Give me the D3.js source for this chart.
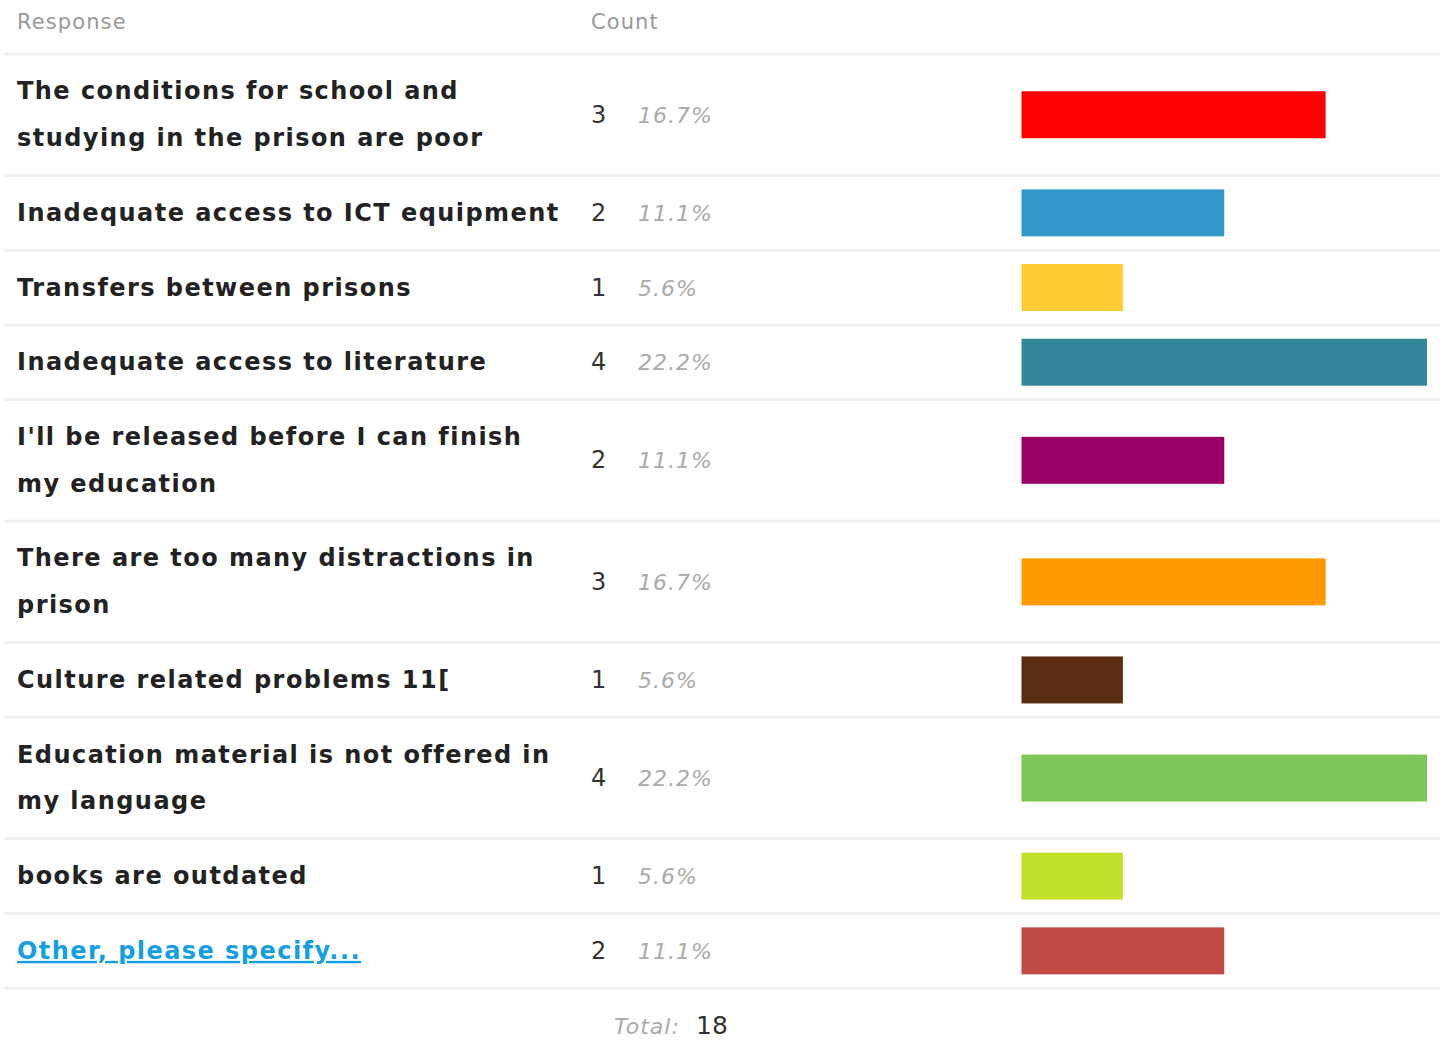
<!DOCTYPE html>
<html><head><meta charset="utf-8">
<script src="https://cdn.jsdelivr.net/npm/d3@7"></script>
<style>
html,body{margin:0;padding:0;background:#fff;}
svg text{font-family:"DejaVu Sans",sans-serif;}
</style></head>
<body><svg id="c" width="1443" height="1061"></svg>
<script>
const categories = [
  "The conditions for school and studying in the prison are poor",
  "Inadequate access to ICT equipment",
  "Transfers between prisons",
  "Inadequate access to literature",
  "I'll be released before I can finish my education",
  "There are too many distractions in prison",
  "Culture related problems 11[",
  "Education material is not offered in my language",
  "books are outdated",
  "Other, please specify..."
];
const counts = [3, 2, 1, 4, 2, 3, 1, 4, 1, 2];
const percents = ["16.7%", "11.1%", "5.6%", "22.2%", "11.1%", "16.7%", "5.6%", "22.2%", "5.6%", "11.1%"];
const colors = ["#ff0000", "#3598cc", "#ffcc33", "#33869c", "#990066", "#ff9900", "#5a2d13", "#80c55a", "#bfe12a", "#c04a44"];
const headers = ["Response", "Count"];
const total = 18;

const svg = d3.select("#c");
const lineH = 46.8, rowPad = 27.9, sepW = 3;
const labelX = 17, countX = 591, pctX = 638, barX0 = 1021.5, barMaxX = 1427;
const wrapW = 550;
const LS = "1.45px";

const x = d3.scaleLinear().domain([0, d3.max(counts)]).range([barX0, barMaxX]);

// header
svg.append("text").attr("x", labelX).attr("y", 29).attr("fill", "#999").style("font-size", "21px").style("letter-spacing", "1.1px").text(headers[0]);
svg.append("text").attr("x", countX).attr("y", 29).attr("fill", "#999").style("font-size", "21px").style("letter-spacing", "1.1px").text(headers[1]);

function sep(y){ svg.append("rect").attr("x", 4).attr("y", y).attr("width", 1436).attr("height", sepW).attr("fill", "#f0f0f0"); }

// wrap helper
const measure = svg.append("text").style("font-size", "24px").style("font-weight", "bold").style("letter-spacing", LS).attr("visibility","hidden");
function wrap(str){
  const words = str.split(" "); const lines = []; let cur = "";
  words.forEach(w => {
    const test = cur ? cur + " " + w : w;
    measure.text(test);
    if (measure.node().getComputedTextLength() > wrapW && cur) { lines.push(cur); cur = w; } else cur = test;
  });
  if (cur) lines.push(cur);
  return lines;
}

let y = 52.5;
sep(y);
y += sepW;
categories.forEach((cat, i) => {
  const lines = wrap(cat);
  const h = lines.length * lineH + rowPad - sepW;
  const cy = y + h / 2;
  const isLink = i === categories.length - 1;
  const t = svg.append("text").attr("x", labelX).attr("y", cy - (lines.length - 1) * lineH / 2 + 8)
    .style("font-size", "24px").style("font-weight", "bold").style("letter-spacing", LS)
    .attr("fill", isLink ? "#149fe3" : "#222")
    .style("text-decoration", isLink ? "underline" : "none");
  lines.forEach((l, j) => t.append("tspan").attr("x", labelX).attr("dy", j ? lineH : 0).text(l));
  svg.append("text").attr("x", countX).attr("y", cy + 8).attr("fill", "#333").style("font-size", "24px").text(counts[i]);
  svg.append("text").attr("x", pctX).attr("y", cy + 8).attr("fill", "#aaa").style("font-size", "22px").style("font-style", "italic").style("letter-spacing", "1px").text(percents[i]);
  svg.append("rect").attr("x", x(0)).attr("y", cy - 23.5).attr("width", x(counts[i]) - x(0)).attr("height", 47).attr("fill", colors[i]);
  y += h;
  sep(y);
  y += sepW;
});
measure.remove();

const tt = svg.append("text").attr("y", y + 44).attr("x", 614);
tt.append("tspan").attr("fill", "#aaa").style("font-style", "italic").style("font-size", "22px").style("letter-spacing", "1px").text("Total:");
tt.append("tspan").attr("x", 696).attr("fill", "#333").style("font-size", "25px").text(total);
</script></body></html>
